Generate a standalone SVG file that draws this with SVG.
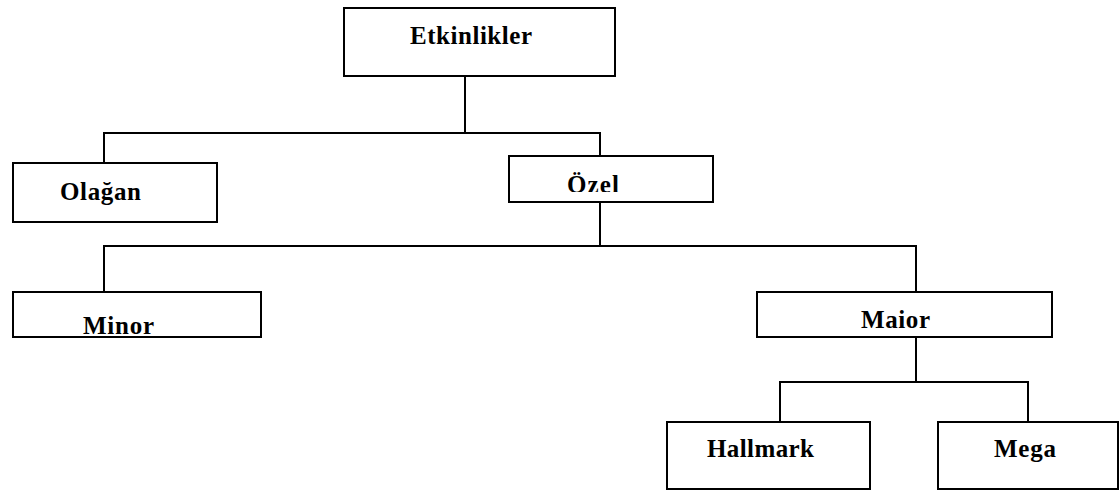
<svg xmlns="http://www.w3.org/2000/svg" width="1120" height="491" viewBox="0 0 1120 491">
  <style>
    .box { fill: #ffffff; stroke: #000000; stroke-width: 2; }
    .wire { fill: none; stroke: #000000; stroke-width: 2; stroke-linecap: square; }
    .label { font-family: "Liberation Serif", "Times New Roman", serif; font-weight: bold; font-size: 25px; fill: #000000; }
  </style>
  <defs>
    <clipPath id="ozel-clip">
      <rect x="509" y="156" width="204" height="36"/>
    </clipPath>
  </defs>
  <rect width="1120" height="491" fill="#ffffff"/>

  <g id="connectors">
    <path class="wire" d="M465 77 V133"/>
    <path class="wire" d="M104 133 H600"/>
    <path class="wire" d="M104 133 V162"/>
    <path class="wire" d="M600 133 V155"/>
    <path class="wire" d="M600 203 V246"/>
    <path class="wire" d="M104 246 H916"/>
    <path class="wire" d="M104 246 V291"/>
    <path class="wire" d="M916 246 V291"/>
    <path class="wire" d="M916 338 V382"/>
    <path class="wire" d="M780 382 H1028"/>
    <path class="wire" d="M780 382 V421"/>
    <path class="wire" d="M1028 382 V421"/>
  </g>

  <g id="node-etkinlikler">
    <rect class="box" x="344" y="8" width="271" height="68"/>
    <text class="label" x="410" y="44" textLength="122">Etkinlikler</text>
  </g>

  <g id="node-olagan">
    <rect class="box" x="13" y="163" width="204" height="59"/>
    <text class="label" x="60" y="200" textLength="81">Olağan</text>
  </g>

  <g id="node-ozel">
    <rect class="box" x="509" y="156" width="204" height="46"/>
    <text class="label" x="567" y="193" textLength="52" clip-path="url(#ozel-clip)">Özel</text>
  </g>

  <g id="node-minor">
    <rect class="box" x="13" y="292" width="248" height="45"/>
    <text class="label" x="83" y="334" textLength="71">Minor</text>
  </g>

  <g id="node-maior">
    <rect class="box" x="757" y="292" width="295" height="45"/>
    <text class="label" x="861" y="328" textLength="69">Maior</text>
  </g>

  <g id="node-hallmark">
    <rect class="box" x="667" y="422" width="203" height="67"/>
    <text class="label" x="707" y="457" textLength="107">Hallmark</text>
  </g>

  <g id="node-mega">
    <rect class="box" x="938" y="422" width="180" height="67"/>
    <text class="label" x="994" y="457" textLength="62">Mega</text>
  </g>
</svg>
